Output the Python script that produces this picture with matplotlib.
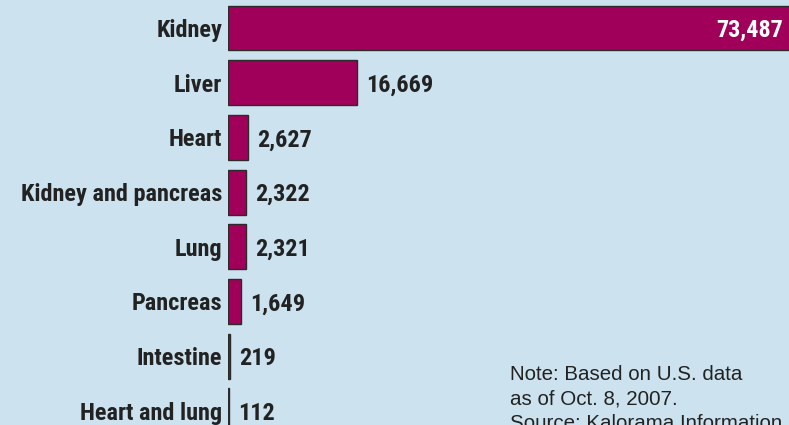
import matplotlib
matplotlib.use("Agg")
import matplotlib.pyplot as plt

categories = ["Kidney", "Liver", "Heart", "Kidney and pancreas", "Lung",
              "Pancreas", "Intestine", "Heart and lung"]
values = [73487, 16669, 2627, 2322, 2321, 1649, 219, 112]
value_labels = ["73,487", "16,669", "2,627", "2,322", "2,321", "1,649", "219", "112"]
note_lines = ["Note: Based on U.S. data", "as of Oct. 8, 2007.",
              "Source: Kalorama Information"]

BG = "#cce3ef"
BAR = "#a0005a"
EDGE = "#2b2b2b"
TXT = "#222222"
narrow = ["Roboto Condensed", "Archivo Narrow", "PT Sans Narrow",
          "IBM Plex Sans Condensed", "DejaVu Sans"]
regular = ["Liberation Sans", "DejaVu Sans"]

W, H = 789, 425
fig = plt.figure(figsize=(W / 100, H / 100), dpi=100, facecolor=BG)
ax = fig.add_axes([228 / W, 0, 1 - 228 / W, 1])
ax.set_facecolor(BG)

ypos = list(range(len(categories)))
ax.barh(ypos, values, height=0.82, color=BAR, edgecolor=EDGE, linewidth=1.0)

px_per_unit = 129 / 16669
ax.set_xlim(0, (W - 228) / px_per_unit)
top = -28 / 54.7
bottom = (H - 28) / 54.7
ax.set_ylim(bottom, top)

for s in ax.spines.values():
    s.set_visible(False)
ax.set_xticks([])
ax.set_yticks(ypos)
ax.set_yticklabels(categories, fontfamily=narrow, fontweight="bold",
                   fontsize=17.5, color=TXT)
ax.tick_params(axis="y", length=0, pad=4.3)

xmax = ax.get_xlim()[1]
for y, v, lab in zip(ypos, values, value_labels):
    if v > xmax * 0.5:
        ax.text(xmax - 6 / px_per_unit, y, lab, ha="right", va="center_baseline",
                fontfamily=narrow, fontweight="bold", fontsize=17.5, color="white")
    else:
        ax.text(v + 9 / px_per_unit, y, lab, ha="left", va="center_baseline",
                fontfamily=narrow, fontweight="bold", fontsize=17.5, color=TXT)

for i, line in enumerate(note_lines):
    fig.text(510 / W, 1 - (379.5 + 24.8 * i) / H, line, ha="left", va="baseline",
             fontfamily=regular, fontsize=14.8, color=TXT)

fig.savefig("out.png", dpi=100, facecolor=BG)
